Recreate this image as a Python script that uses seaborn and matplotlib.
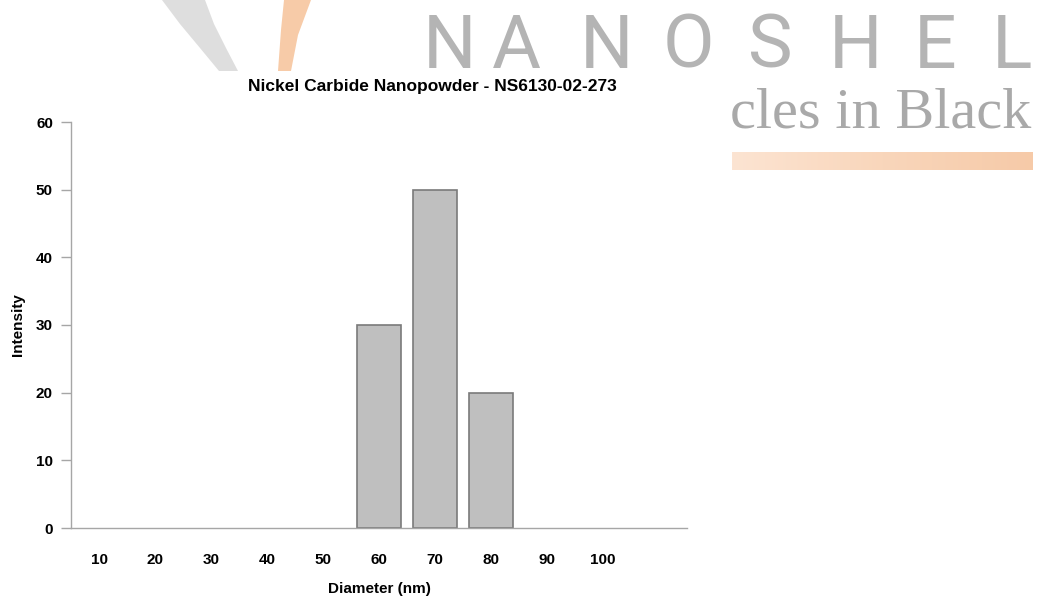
import numpy as np
import pandas as pd
import matplotlib
matplotlib.use("Agg")
import matplotlib.pyplot as plt
import seaborn as sns
from matplotlib.patches import Polygon
from matplotlib.colors import LinearSegmentedColormap

# ---- data ----
diameters = ["10", "20", "30", "40", "50", "60", "70", "80", "90", "100"]
intensity = [0, 0, 0, 0, 0, 30, 50, 20, 0, 0]
y_ticks = [0, 10, 20, 30, 40, 50, 60]
title = "Nickel Carbide Nanopowder - NS6130-02-273"
x_label = "Diameter (nm)"
y_label = "Intensity"
brand_letters = list("NANOSHEL")
tagline = "cles in Black"

W, H = 1037, 601
sns.set_style("white")
plt.rcParams['font.family'] = ['Liberation Sans Narrow', 'Liberation Sans', 'DejaVu Sans']
plt.rcParams['text.color'] = 'black'
plt.rcParams['axes.labelcolor'] = 'black'

fig = plt.figure(figsize=(W / 100, H / 100), dpi=100)
fig.patch.set_facecolor("white")


def fx(x):
    return x / W


def fy(y):
    return 1 - y / H


# ---- watermark (background) ----
gray_swoosh = [(162, 0), (180, 24), (200, 48), (219, 71), (238, 71), (226, 48), (214, 24), (205, 0)]
orange_swoosh = [(284, 0), (281, 30), (278, 71), (291, 71), (298, 35), (311, 0)]
for pts, col in [(gray_swoosh, "#dedede"), (orange_swoosh, "#f7cba8")]:
    poly = Polygon([(fx(a), fy(b)) for a, b in pts], closed=True, transform=fig.transFigure,
                   facecolor=col, edgecolor="none", zorder=-5)
    fig.add_artist(poly)

letter_left = [423, 492, 580, 663, 748, 829, 914, 992]
for ch, lx in zip(brand_letters, letter_left):
    fig.text(fx(lx), fy(68), ch, ha="left", va="baseline", family="Roboto",
             fontsize=54, color="#b4b4b4", zorder=-4)

fig.text(fx(1031), fy(128), tagline, ha="right", va="baseline", family="Liberation Serif",
         fontsize=42, color="#a9a9a9", zorder=-4)

bar_ax = fig.add_axes([fx(732), fy(170), fx(1033) - fx(732), fy(152) - fy(170)], zorder=-4)
grad = np.linspace(0, 1, 256).reshape(1, -1)
cmap = LinearSegmentedColormap.from_list("peach", ["#fce4d2", "#f9d6bb", "#f6caa8"])
bar_ax.imshow(grad, aspect="auto", cmap=cmap)
bar_ax.set_axis_off()

# ---- chart ----
ax = fig.add_axes([fx(71), fy(528), fx(687) - fx(71), fy(122) - fy(528)])
df = pd.DataFrame({"Diameter": diameters, "Intensity": intensity})
drawn = df[df["Intensity"] > 0]
sns.barplot(data=drawn, x="Diameter", y="Intensity", order=diameters, color="#bfbfbf",
            saturation=1, edgecolor="#7a7a7a", linewidth=1.2, width=0.8, ax=ax)

ax.set_xlim(-0.5, len(diameters) + 0.5)
ax.set_ylim(0, 60)
ax.set_yticks(y_ticks)
ax.set_facecolor("none")
for s in ["top", "right"]:
    ax.spines[s].set_visible(False)
for s in ["left", "bottom"]:
    ax.spines[s].set_color("#a6a6a6")
    ax.spines[s].set_linewidth(1)

ax.tick_params(axis="y", left=True, length=7, width=1, color="#a6a6a6", pad=6,
               labelsize=11, labelcolor="black")
ax.tick_params(axis="x", bottom=False, length=0, pad=18, labelsize=11, labelcolor="black")
for lab in ax.get_xticklabels() + ax.get_yticklabels():
    lab.set_fontweight("bold")

ax.set_xlabel(x_label, fontsize=11, fontweight="bold", labelpad=11, color="black")
ax.set_ylabel(y_label, fontsize=11, fontweight="bold", labelpad=8, color="black")

fig.text(fx(432), fy(87), title, ha="center", va="center", fontsize=12.5,
         fontweight="bold", color="black")

fig.savefig("out.png", dpi=100, facecolor="white")
